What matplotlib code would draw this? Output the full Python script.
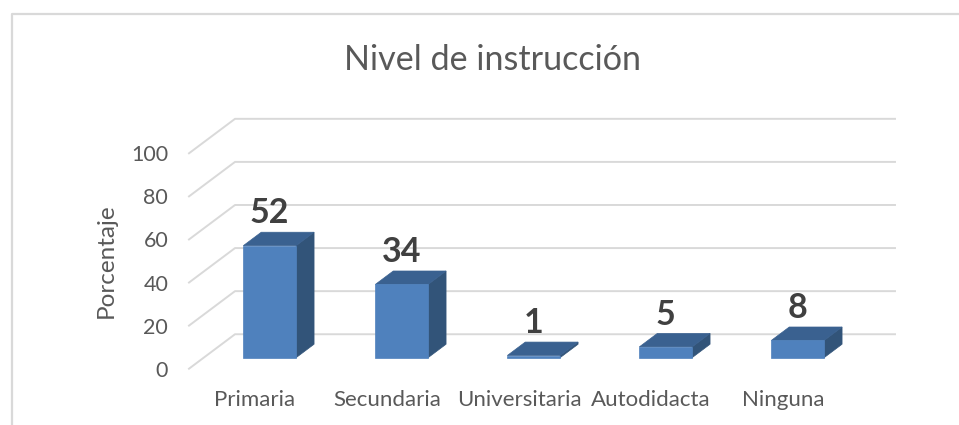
import matplotlib
matplotlib.use('Agg')
import matplotlib.pyplot as plt
from matplotlib.patches import Polygon
from matplotlib.lines import Line2D

categories = ['Primaria', 'Secundaria', 'Universitaria', 'Autodidacta', 'Ninguna']
values = [52, 34, 1, 5, 8]
y_ticks = [0, 20, 40, 60, 80, 100]

plt.rcParams['font.family'] = ['Lato', 'DejaVu Sans']

W, H = 959, 425
fig = plt.figure(figsize=(W / 100, H / 100), dpi=100)

# front of the floor: 189..849 px wide, 368.7..153.3 px high
ax = fig.add_axes([189 / W, 1 - 368.7 / H, 660 / W, 215.4 / H])
ax.set_xlim(0, 5)
ax.set_ylim(0, 100)
for s in ax.spines.values():
    s.set_visible(False)

# fake 3D: depth d goes 0..1, shifted right and up
depth_x = 46 / 132
depth_y = 16


def proj(x, y, d):
    return x + d * depth_x, y + d * depth_y


grid_color = '#d9d9d9'
for t in y_ticks:
    xs, ys = zip(proj(0, t, 0), proj(0, t, 1), proj(5, t, 1))
    ax.plot(xs, ys, color=grid_color, lw=1.4, clip_on=False, zorder=1)

bar_w = 0.4
d0, d1 = 0.32, 0.71
front_c = '#4f81bd'
top_c = '#3a6190'
side_c = '#325479'
for i, v in enumerate(values):
    x0 = i + 0.5 - bar_w / 2
    x1 = x0 + bar_w
    side = [proj(x1, 0, d0), proj(x1, 0, d1), proj(x1, v, d1), proj(x1, v, d0)]
    top = [proj(x0, v, d0), proj(x1, v, d0), proj(x1, v, d1), proj(x0, v, d1)]
    front = [proj(x0, 0, d0), proj(x1, 0, d0), proj(x1, v, d0), proj(x0, v, d0)]
    for pts, c in [(side, side_c), (top, top_c), (front, front_c)]:
        ax.add_patch(Polygon(pts, closed=True, facecolor=c, edgecolor=c, lw=0.5,
                             clip_on=False, zorder=3))
    lx, ly = proj(i + 0.5, v, d1)
    ax.text(lx - 0.14, ly + 1.3, str(v), ha='center', va='bottom', fontsize=24.5,
            fontweight='bold', color='#404040', zorder=4)

ax.set_xticks([i + 0.5 for i in range(len(categories))])
ax.set_xticklabels(categories)
ax.set_yticks(y_ticks)
ax.tick_params(axis='x', length=0, pad=15, labelsize=16, labelcolor='#595959')
ax.tick_params(axis='y', length=0, pad=15, labelsize=15.5, labelcolor='#595959')
ax.set_ylabel('Porcentaje', fontsize=17.5, color='#595959', labelpad=10)

fig.text(492 / W, 1 - 60 / H, 'Nivel de instrucción', ha='center', va='center',
         fontsize=24.6, color='#595959')

# chart frame, only top and left are visible
fig.add_artist(Line2D([11.5 / W, 11.5 / W, 1], [0, 1 - 14 / H, 1 - 14 / H],
                      color=grid_color, lw=1.6))

fig.savefig('out.png', dpi=100)
